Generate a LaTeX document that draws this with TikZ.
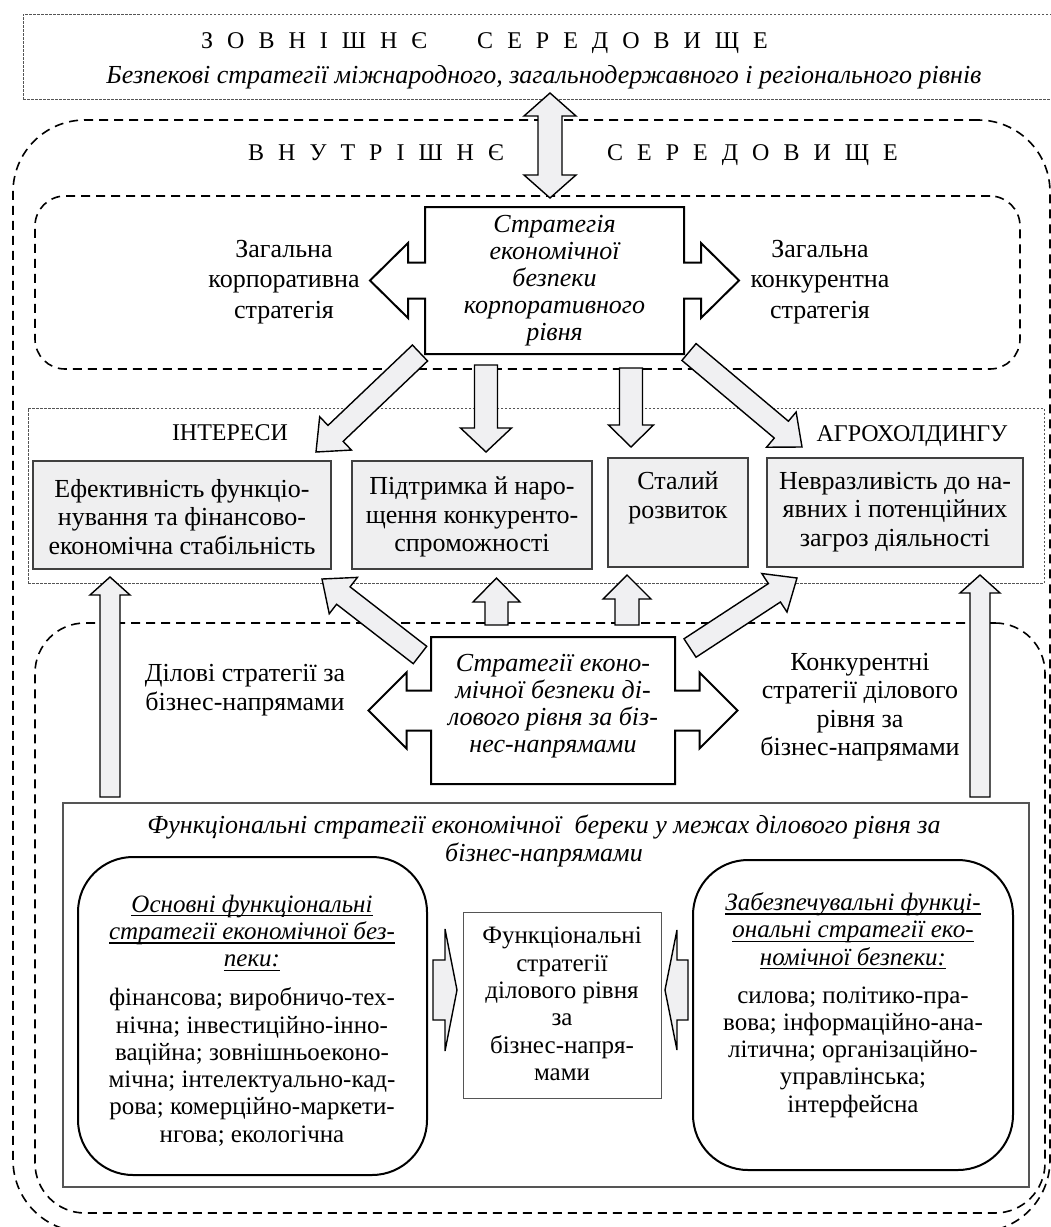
\documentclass[tikz,border=0pt]{standalone}
\usepackage{fontspec}
\setmainfont{Liberation Serif}
\usetikzlibrary{calc}
\definecolor{arrgray}{RGB}{240,240,242}
\definecolor{boxgray}{RGB}{239,239,240}
\definecolor{lgray}{RGB}{85,85,85}
\newcommand\fsB{\fontsize{26}{28.5}\selectfont}
\newcommand\fsS{\fontsize{26}{30.5}\selectfont}
\newcommand\fsI{\fontsize{26}{27}\selectfont\itshape}
\newcommand\fsC{\fontsize{25}{27.3}\selectfont}
\newcommand\fsD{\fontsize{24}{28}\selectfont}
\newcommand\lsp{\hspace{14pt}}
\newcommand\ulx[1]{\setbox0=\hbox{#1}\rlap{\rule[-4pt]{\wd0}{1.4pt}}\box0}
% block arrow: from, to, half shaft, half head, head length
\newcommand\barrow[5]{\draw[barrowst] ($(#1)!#3!90:(#2)$) -- ($(#2)!#5!(#1)!#3!90:(#2)$) -- ($(#2)!#5!(#1)!#4!90:(#2)$) -- (#2) -- ($(#2)!#5!(#1)!#4!-90:(#2)$) -- ($(#2)!#5!(#1)!#3!-90:(#2)$) -- ($(#1)!#3!-90:(#2)$) -- cycle;}
\newcommand\dbarrow[5]{\draw[barrowst] (#1) -- ($(#1)!#5!(#2)!#4!90:(#2)$) -- ($(#1)!#5!(#2)!#3!90:(#2)$) -- ($(#2)!#5!(#1)!#3!90:(#2)$) -- ($(#2)!#5!(#1)!#4!90:(#2)$) -- (#2) -- ($(#2)!#5!(#1)!#4!-90:(#2)$) -- ($(#2)!#5!(#1)!#3!-90:(#2)$) -- ($(#1)!#5!(#2)!#3!-90:(#2)$) -- ($(#1)!#5!(#2)!#4!-90:(#2)$) -- cycle;}
% box with two side arrows: node, half width, half height, half shaft, head base, half head, tip
\newcommand\crossbox[7]{\draw[outl, shift={(#1.center)}]
 (-#2,-#3) -- (#2,-#3) -- (#2,-#4) -- (#2+#5,-#4) -- (#2+#5,-#6) -- (#2+#7,0) -- (#2+#5,#6) -- (#2+#5,#4) -- (#2,#4) -- (#2,#3)
 -- (-#2,#3) -- (-#2,#4) -- (-#2-#5,#4) -- (-#2-#5,#6) -- (-#2-#7,0) -- (-#2-#5,-#6) -- (-#2-#5,-#4) -- (-#2,-#4) -- cycle;}
\begin{document}
\begin{tikzpicture}[x=1pt,y=-1pt,
  envbox/.style={draw, line width=1.6pt, dash pattern=on 9pt off 6pt},
  dotbox/.style={draw=lgray, line width=0.9pt, dash pattern=on 2.5pt off 1.5pt},
  ibox/.style={draw=black!75, fill=boxgray, line width=1.3pt},
  barrowst/.style={draw, fill=arrgray, line width=1.4pt, line join=miter},
  outl/.style={draw, fill=white, line width=2pt, line join=miter},
  rbox/.style={draw, line width=2pt, rounded corners=55pt},
  txt/.style={align=center, inner sep=0pt, font=\fsB},
  sp/.style={inner sep=0pt, font=\fsD}]
\useasboundingbox (0,0) rectangle (1051,1227);
\fill[white] (0,0) rectangle (1051,1227);

% containers
\node[dotbox, minimum width=1028pt, minimum height=85pt] (ext) at (537,56.5) {};
\node[envbox, rounded corners=72pt, minimum width=1037pt, minimum height=1112pt] (int) at (531.5,676) {};
\node[envbox, rounded corners=30pt, minimum width=985pt, minimum height=173pt] (corp) at (527.5,282.5) {};
\node[envbox, rounded corners=50pt, minimum width=1010pt, minimum height=590pt] (bus) at (540,918) {};
\node[dotbox, minimum width=1016pt, minimum height=175pt] (intr) at (536,495.5) {};
\node[draw=lgray, line width=1.3pt, minimum width=966pt, minimum height=384pt] (fun) at (546,995) {};

% external texts
\node[sp, anchor=base west] (t1) at (201,48) {З\lsp О\lsp В\lsp Н\lsp І\lsp Ш\lsp Н\lsp Є\hspace{50pt}С\lsp Е\lsp Р\lsp Е\lsp Д\lsp О\lsp В\lsp И\lsp Щ\lsp Е};
\node[txt, anchor=base, font=\fsB\itshape] (t2) at (544,83) {Безпекові стратегії міжнародного, загальнодержавного і регіонального рівнів};
\node[sp, anchor=base west] (t3) at (248,160) {В\lsp Н\lsp У\lsp Т\lsp Р\lsp І\lsp Ш\lsp Н\lsp Є};
\node[sp, anchor=base west] (t4) at (607,160) {С\lsp Е\lsp Р\lsp Е\lsp Д\lsp О\lsp В\lsp И\lsp Щ\lsp Е};

% corporate level
\node[minimum width=259pt, minimum height=147pt, inner sep=0pt] (cs) at (554.5,280.5) {};
\crossbox{cs}{129.5}{73.5}{18}{17}{37.5}{55}
\node[txt, font=\fsI] (cst) at (cs.center) {Стратегія\\економічної\\безпеки\\корпоративного\\рівня};
\node[txt, font=\fsS] (cl) at (284,282) {Загальна\\корпоративна\\стратегія};
\node[txt, font=\fsS] (cr) at (820,282) {Загальна\\конкурентна\\стратегія};

% interests
\node[sp, anchor=base] (ti) at (230,440) {ІНТЕРЕСИ};
\node[sp, anchor=base] (ta) at (912,441) {АГРОХОЛДИНГУ};
\node[ibox, minimum width=298pt, minimum height=108pt] (i1) at (182,515) {};
\node[ibox, minimum width=240pt, minimum height=108pt] (i2) at (472,515) {};
\node[ibox, minimum width=140pt, minimum height=109pt] (i3) at (678,512.5) {};
\node[ibox, minimum width=256pt, minimum height=109pt] (i4) at (895,512.5) {};
\node[txt] (i1t) at (182,517) {Ефективність функціо-\\нування та фінансово-\\економічна стабільність};
\node[txt] (i2t) at (472,517) {Підтримка й наро-\\щення конкуренто-\\спроможності};
\node[txt] (i3t) at (678,498) {Сталий\\розвиток};
\node[txt] (i4t) at (895,512) {Невразливість до на-\\явних і потенційних\\загроз діяльності};

% business level
\node[minimum width=244pt, minimum height=147pt, inner sep=0pt] (bs) at (553,710.5) {};
\crossbox{bs}{122}{73.5}{20}{24.5}{38}{62.5}
\node[txt, font=\fsI] (bst) at (553,706) {Стратегії еконо-\\мічної безпеки ді-\\лового рівня за біз-\\нес-напрямами};
\node[txt] (bl) at (245,690) {Ділові стратегії за\\бізнес-напрямами};
\node[txt] (br) at (860,707) {Конкурентні\\стратегії ділового\\рівня за\\бізнес-напрямами};

% functional level
\node[txt, font=\fsB\itshape] (funt) at (544,841) {Функціональні стратегії економічної~ береки у межах ділового рівня за\\бізнес-напрямами};
\node[rbox, minimum width=349pt, minimum height=318pt] (lr) at (252.5,1016) {};
\node[rbox, minimum width=320pt, minimum height=310pt] (rr) at (853,1015) {};
\node[draw=lgray, line width=1pt, minimum width=198pt, minimum height=186pt] (fc) at (562,1005) {};
\node[txt, font=\fsC\itshape] (lr1) at (252,933) {\ulx{Основні функціональні}\\\ulx{стратегії економічної без-}\\\ulx{пеки:}};
\node[txt, font=\fsC] (lr2) at (252,1067) {фінансова; виробничо-тех-\\нічна; інвестиційно-інно-\\ваційна; зовнішньоеконо-\\мічна; інтелектуально-кад-\\рова; комерційно-маркети-\\нгова; екологічна};
\node[txt, font=\fsC\itshape] (rr1) at (853,931) {\ulx{Забезпечувальні функці-}\\\ulx{ональні стратегії еко-}\\\ulx{номічної безпеки:}};
\node[txt, font=\fsC] (rr2) at (853,1052) {силова; політико-пра-\\вова; інформаційно-ана-\\літична; організаційно-\\управлінська;\\інтерфейсна};
\node[txt, font=\fsC] (fct) at (562,1004) {Функціональні\\стратегії\\ділового рівня\\за\\бізнес-напря-\\мами};

% connector end points
\coordinate (ta1) at (550,93);   \coordinate (ta2) at (550,198);
\coordinate (d1a) at (486,365);  \coordinate (d1b) at (486,452);
\coordinate (d2a) at (631,368);  \coordinate (d2b) at (631,447);
\coordinate (dla) at (420,353);  \coordinate (dlb) at (316,452);
\coordinate (dra) at (689,352);  \coordinate (drb) at (802,447);
\coordinate (lla) at (110,797);  \coordinate (llb) at (110,577);
\coordinate (lra) at (980,797);  \coordinate (lrb) at (980,575);
\coordinate (u1a) at (496.5,625); \coordinate (u1b) at (496.5,578);
\coordinate (u2a) at (627,625);  \coordinate (u2b) at (627,575);
\coordinate (ula) at (420,655);  \coordinate (ulb) at (322,579);
\coordinate (ura) at (690,648);  \coordinate (urb) at (797,578);
\coordinate (fla) at (433,990);  \coordinate (flb) at (457,990);
\coordinate (fra) at (688,990);  \coordinate (frb) at (665,990);

% connectors
\dbarrow{ta1}{ta2}{12pt}{26pt}{23pt}
\barrow{d1a}{d1b}{11.5pt}{25.5pt}{24pt}
\barrow{d2a}{d2b}{11.5pt}{22.5pt}{22pt}
\barrow{dla}{dlb}{11pt}{23pt}{27pt}
\barrow{dra}{drb}{11pt}{23pt}{27pt}
\barrow{lla}{llb}{10pt}{20pt}{18pt}
\barrow{lra}{lrb}{10pt}{20pt}{18pt}
\barrow{u1a}{u1b}{11.5pt}{23.5pt}{24pt}
\barrow{u2a}{u2b}{12pt}{24pt}{24pt}
\barrow{ula}{ulb}{11pt}{23pt}{27pt}
\barrow{ura}{urb}{11pt}{23pt}{27pt}
\barrow{fla}{flb}{30pt}{61pt}{12pt}
\barrow{fra}{frb}{30pt}{60pt}{12pt}
\end{tikzpicture}
\end{document}
